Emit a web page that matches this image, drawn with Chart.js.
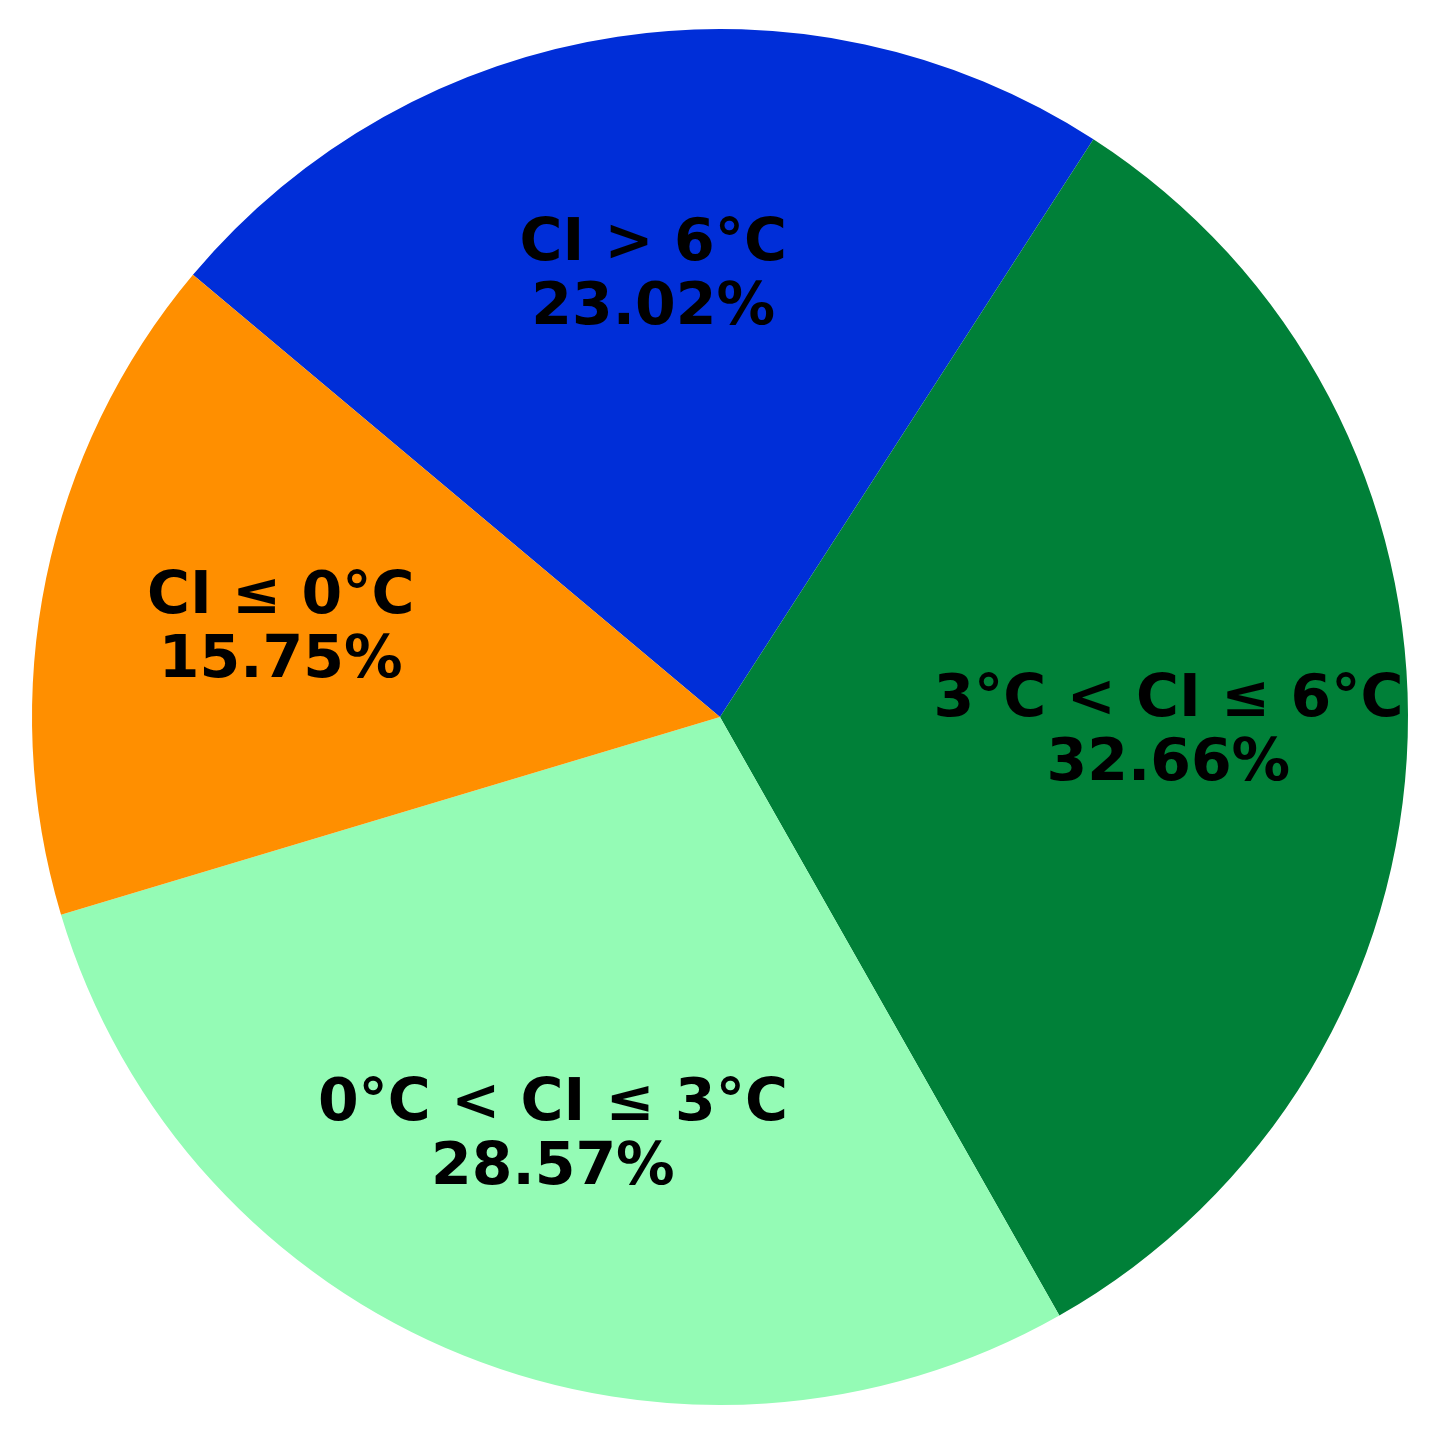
<!DOCTYPE html>
<html>
<head>
<meta charset="utf-8">
<script src="https://cdn.jsdelivr.net/npm/chart.js@4/dist/chart.umd.min.js"></script>
<style>
  html, body { margin: 0; padding: 0; background: #fff; }
  #wrap { width: 1432px; height: 1436px; }
</style>
</head>
<body>
<div id="wrap"><canvas id="pie" width="1432" height="1436"></canvas></div>
<script>
// slice data, clockwise from the top-left
const labels = ["CI > 6°C", "3°C < CI ≤ 6°C", "0°C < CI ≤ 3°C", "CI ≤ 0°C"];
const shares = [23.02, 32.66, 28.57, 15.75];
const colors = ["#002ED8", "#008038", "#94FBB5", "#FF8F00"];

// draws "name / percent" inside each slice
const sliceLabels = {
  id: "sliceLabels",
  afterDatasetsDraw(chart) {
    const ctx = chart.ctx;
    const meta = chart.getDatasetMeta(0);
    const size = 58.5;
    ctx.save();
    ctx.fillStyle = "#000";
    ctx.textAlign = "center";
    ctx.textBaseline = "alphabetic";
    ctx.font = "bold " + size + "px 'DejaVu Sans'";
    meta.data.forEach((arc, i) => {
      const p = arc.getProps(["x", "y", "startAngle", "endAngle", "outerRadius"], true);
      const mid = (p.startAngle + p.endAngle) / 2;
      const r = p.outerRadius * 0.652;
      const cx = p.x + Math.cos(mid) * r;
      const cy = p.y + Math.sin(mid) * r;
      const half = size * 0.729 / 2;
      ctx.fillText(labels[i], cx, cy - 35 + half);
      ctx.fillText(shares[i].toFixed(2) + "%", cx, cy + 29 + half);
    });
    ctx.restore();
  }
};

new Chart(document.getElementById("pie"), {
  type: "pie",
  data: {
    labels,
    datasets: [{
      data: shares,
      backgroundColor: colors,
      borderWidth: 0
    }]
  },
  options: {
    responsive: false,
    animation: false,
    rotation: -50,
    layout: { padding: { left: 32, right: 24, top: 29, bottom: 31 } },
    plugins: {
      legend: { display: false },
      tooltip: { enabled: false }
    }
  },
  plugins: [sliceLabels]
});
</script>
</body>
</html>
